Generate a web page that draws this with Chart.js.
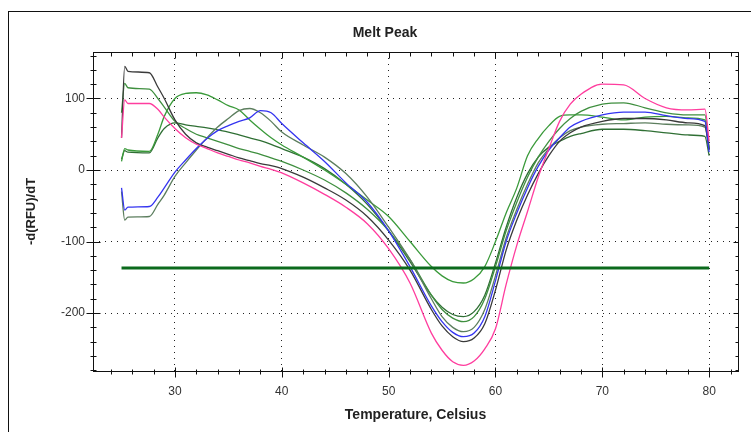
<!DOCTYPE html>
<html>
<head>
<meta charset="utf-8">
<title>Melt Peak</title>
<script src="https://cdn.jsdelivr.net/npm/chart.js@4.4.1/dist/chart.umd.min.js"></script>
<style>
  html, body { margin: 0; padding: 0; background: #fff; }
  #wrap { width: 751px; height: 432px; }
</style>
</head>
<body>
<div id="wrap"><canvas id="meltChart" width="751" height="432"></canvas></div>
<script>
// temperature steps shared by every well (x)
const temps = [25, 25.3, 25.6, 27.6, 28.4, 29, 30, 31, 32, 33, 34, 35, 36, 37, 38, 39, 40,
  42, 44, 46, 48, 50, 52, 54, 55, 56, 57, 58, 59, 60, 61, 62, 63, 64, 65, 66, 67, 68,
  70, 72, 74, 76, 78, 79.6, 80];

// -d(RFU)/dT, one list per well
const pinkWell = [45, 98, 93, 93, 85, 74, 58, 45, 36, 30, 24, 19, 14, 10, 5, 1, -4,
  -18, -34, -52, -75, -110, -158, -228, -252, -268, -273, -267, -250, -222, -160, -105, -58, -10, 30, 68, 92, 106,
  120, 119, 100, 87, 84, 85, 40];
const blackWell = [45, 145, 138, 136, 116, 100, 70, 50, 38, 32, 27, 22, 17, 13, 9, 6, 2,
  -10, -25, -42, -65, -98, -140, -195, -218, -233, -240, -235, -215, -168, -112, -70, -35, -5, 20, 40, 52, 60,
  68, 72, 72, 70, 66, 62, 28];
const greenHighWell = [80, 121, 115, 113, 100, 88, 68, 58, 50, 45, 40, 35, 30, 26, 22, 17, 12,
  0, -14, -32, -55, -85, -125, -175, -195, -207, -212, -205, -180, -135, -85, -45, -10, 18, 40, 58, 72, 82,
  92, 94, 87, 80, 77, 77, 30];
const blueWell = [-25, -56, -52, -51, -38, -25, -3, 14, 30, 44, 55, 62, 68, 73, 83, 80, 65,
  38, 12, -18, -45, -85, -135, -190, -212, -227, -233, -228, -205, -155, -100, -60, -25, 5, 28, 45, 60, 68,
  77, 81, 81, 76, 72, 68, 25];
const grayGreenWell = [-30, -70, -66, -65, -48, -35, -9, 10, 28, 45, 60, 72, 83, 86, 80, 68, 53,
  35, 18, -5, -38, -80, -125, -180, -205, -220, -226, -220, -195, -148, -95, -55, -20, 10, 30, 45, 55, 60,
  64, 65, 66, 64, 63, 60, 30];
const greenPeakWell = [12, 30, 28, 26, 50, 75, 100, 107, 108, 105, 98, 90, 84, 70, 57, 45, 35,
  18, 0, -20, -42, -65, -100, -135, -148, -156, -158, -152, -135, -100, -60, -25, 20, 44, 62, 75, 77, 77,
  74, 70, 74, 75, 73, 70, 30];
const greenFlatWell = [15, 27, 25, 24, 45, 58, 66, 63, 61, 59, 56, 53, 49, 45, 41, 36, 30,
  18, 2, -20, -48, -85, -128, -175, -192, -202, -205, -198, -175, -130, -80, -38, -5, 18, 32, 40, 47, 51,
  57, 57, 55, 52, 49, 47, 20];

// threshold line
const thresholdValue = -137;
const thresholdRange = [25, 80];

// axes
const xRange = [22.33, 82.7];
const yRange = [-281, 165];
const xMajorStep = 10, xMinorStep = 2;
const yMajorStep = 100, yMinorStep = 20;

const chartTitle = 'Melt Peak';
const xTitle = 'Temperature, Celsius';
const yTitle = '-d(RFU)/dT';

function isMajor(v, step) {
  return Math.abs(v - Math.round(v / step) * step) < 1e-6;
}

function toPoints(vals) {
  return temps.map((t, i) => ({ x: t, y: vals[i] }));
}

function well(label, vals, color) {
  return {
    label: label,
    data: toPoints(vals),
    borderColor: color,
    borderWidth: 1.3,
    pointRadius: 0,
    fill: false,
    cubicInterpolationMode: 'monotone'
  };
}

// box with ticks on every side, outer frame and title
const boxTicks = {
  id: 'boxTicks',
  afterDraw(chart) {
    const { ctx, chartArea: a, scales: { x, y } } = chart;
    const L = Math.round(a.left) + 0.5, R = Math.round(a.right) + 0.5;
    const T = Math.round(a.top) + 0.5, B = Math.round(a.bottom) + 0.5;
    ctx.save();
    ctx.strokeStyle = '#111';
    ctx.lineWidth = 1;
    ctx.strokeRect(8.5, 11.5, 800, 500);
    ctx.strokeRect(L, T, R - L, B - T);
    ctx.beginPath();
    for (let v = Math.ceil(x.min / xMinorStep) * xMinorStep; v <= x.max; v += xMinorStep) {
      const px = Math.round(x.getPixelForValue(v)) + 0.5;
      const big = isMajor(v, xMajorStep);
      ctx.moveTo(px, B - (big ? 4 : 2));
      ctx.lineTo(px, B + (big ? 6 : 3));
      ctx.moveTo(px, T);
      ctx.lineTo(px, T + (big ? 6 : 4));
    }
    for (let v = Math.ceil(y.min / yMinorStep) * yMinorStep; v <= y.max; v += yMinorStep) {
      const py = Math.round(y.getPixelForValue(v)) + 0.5;
      const big = isMajor(v, yMajorStep);
      ctx.moveTo(L - (big ? 7 : 3), py);
      ctx.lineTo(L + (big ? 7 : 3), py);
      ctx.moveTo(R, py);
      ctx.lineTo(R - (big ? 5 : 3), py);
    }
    ctx.stroke();
    ctx.fillStyle = '#222';
    ctx.font = 'bold 14px "Liberation Sans", Arial, sans-serif';
    ctx.textAlign = 'center';
    ctx.textBaseline = 'middle';
    ctx.fillText(chartTitle, 385, 33);
    ctx.restore();
  }
};

const tickFont = { family: '"Liberation Sans", Arial, sans-serif', size: 12 };
const titleFont = { family: '"Liberation Sans", Arial, sans-serif', size: 14, weight: 'bold' };

new Chart(document.getElementById('meltChart').getContext('2d'), {
  type: 'line',
  data: {
    datasets: [
      {
        label: 'Threshold',
        data: [{ x: thresholdRange[0], y: thresholdValue }, { x: thresholdRange[1], y: thresholdValue }],
        borderColor: '#0b6a1c',
        borderWidth: 3,
        pointRadius: 0,
        fill: false
      },
      well('Pink', pinkWell, '#ff3d9e'),
      well('Blue', blueWell, '#3434f0'),
      well('Black', blackWell, '#3a3a3a'),
      well('Gray green', grayGreenWell, '#5c7e5e'),
      well('Green high', greenHighWell, '#3f8f3f'),
      well('Green peak', greenPeakWell, '#3a9a3a'),
      well('Green flat', greenFlatWell, '#2f6f34')
    ]
  },
  options: {
    responsive: false,
    animation: false,
    devicePixelRatio: 1,
    layout: { padding: { left: 12, right: 12, top: 52, bottom: 0 } },
    plugins: {
      legend: { display: false },
      title: { display: false },
      tooltip: { enabled: false }
    },
    scales: {
      x: {
        type: 'linear',
        position: 'bottom',
        min: xRange[0],
        max: xRange[1],
        afterFit: (s) => { s.height = 61; },
        border: { display: false, dash: [1, 5] },
        grid: {
          drawTicks: false,
          lineWidth: 1,
          color: (c) => (c.tick && isMajor(c.tick.value, xMajorStep) ? '#222' : 'rgba(0,0,0,0)')
        },
        ticks: {
          stepSize: xMinorStep,
          autoSkip: false,
          maxRotation: 0,
          padding: 13,
          color: '#333',
          font: tickFont,
          callback: (v) => (isMajor(v, xMajorStep) ? String(Math.round(v)) : '')
        },
        title: { display: true, text: xTitle, color: '#222', font: titleFont, padding: { top: 0, bottom: 8 } }
      },
      y: {
        min: yRange[0],
        max: yRange[1],
        afterFit: (s) => { s.width = 81; },
        border: { display: false, dash: [1, 5] },
        grid: {
          drawTicks: false,
          lineWidth: 1,
          color: (c) => (c.tick && isMajor(c.tick.value, yMajorStep) ? '#222' : 'rgba(0,0,0,0)')
        },
        ticks: {
          stepSize: yMinorStep,
          autoSkip: false,
          padding: 8,
          color: '#333',
          font: tickFont,
          callback: (v) => (isMajor(v, yMajorStep) ? String(Math.round(v)) : '')
        },
        title: { display: true, text: yTitle, color: '#222', font: { family: titleFont.family, size: 13, weight: 'bold' }, padding: { top: 12, bottom: 0 } }
      }
    }
  },
  plugins: [boxTicks]
});
</script>
</body>
</html>
